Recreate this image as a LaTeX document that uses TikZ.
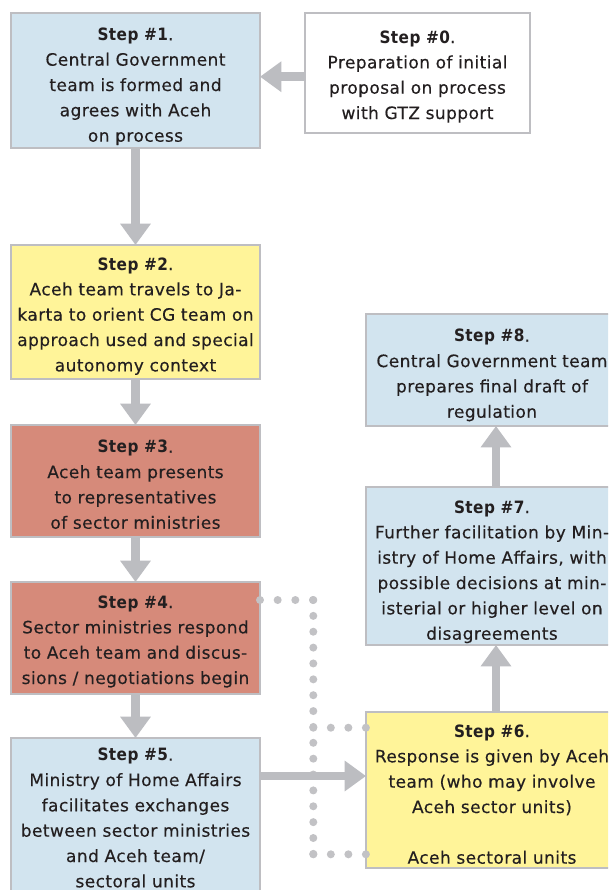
\documentclass[tikz,border=0pt]{standalone}
\usepackage{fontspec}
\setmainfont{DejaVu Sans}[LetterSpace=2.5, FakeBold=0.3, BoldFont={DejaVu Sans Condensed Bold}, BoldFeatures={FakeBold=0}]
\usetikzlibrary{arrows.meta}
\definecolor{boxblue}{HTML}{D2E4EF}
\definecolor{boxyellow}{HTML}{FFF499}
\definecolor{boxsalmon}{HTML}{D68A7A}
\definecolor{bordergray}{HTML}{BEBEC2}
\definecolor{arrowgray}{HTML}{BCBDC1}
\definecolor{dotgray}{HTML}{C2C2C5}
\definecolor{textdark}{HTML}{231F20}
\tikzset{
  stepbox/.style={draw=bordergray, line width=2pt, inner sep=0pt, outer sep=0pt, rectangle},
  steptext/.style={anchor=base, inner sep=0pt, outer sep=0pt, text width=240pt, align=center,
    text=textdark, font=\fontsize{12.75}{19}\selectfont},
  arr/.style={draw=arrowgray, line width=6.5pt, -{Triangle[length=16pt, width=22pt]}},
  dotline/.style={draw=dotgray, line width=6pt, line cap=round}
}
\begin{document}
\begin{tikzpicture}[x=0.75pt,y=-0.75pt]
\useasboundingbox (0,0) rectangle (608,890);
\fill[white] (0,0) rectangle (608,890);
\clip (0,0) rectangle (608,890);

% boxes
\node[stepbox, fill=white, minimum width=168.75pt, minimum height=90pt] (s0) at (417.5,73) {};
\node[stepbox, fill=boxblue, minimum width=186.75pt, minimum height=101.25pt] (s1) at (135.5,80.5) {};
\node[stepbox, fill=boxyellow, minimum width=186.75pt, minimum height=100.5pt] (s2) at (135.5,312) {};
\node[stepbox, fill=boxsalmon, minimum width=186.75pt, minimum height=84pt] (s3) at (135.5,481) {};
\node[stepbox, fill=boxsalmon, minimum width=186.75pt, minimum height=84pt] (s4) at (135.5,638) {};
\node[stepbox, fill=boxblue, minimum width=186.75pt, minimum height=125.25pt] (s5) at (135.5,821.5) {};
\node[stepbox, fill=boxblue, minimum width=189pt, minimum height=84pt] (s8) at (492,370) {};
\node[stepbox, fill=boxblue, minimum width=189pt, minimum height=118.5pt] (s7) at (492,566) {};
\node[stepbox, fill=boxyellow, minimum width=189pt, minimum height=117pt] (s6) at (492,790) {};

% texts
\node[steptext] (t0) at ([yshift=-22.5pt]s0.north) {\textbf{Step \#0}.\\Preparation of initial\\proposal on process\\with GTZ support};
\node[steptext] (t1) at ([yshift=-20.5pt]s1.north) {\textbf{Step \#1}.\\Central Government\\team is formed and\\agrees with Aceh\\on process};
\node[steptext] (t2) at ([yshift=-18.75pt]s2.north) {\textbf{Step \#2}.\\Aceh team travels to Ja-\\karta to orient CG team on\\approach used and special\\autonomy context};
\node[steptext] (t3) at ([yshift=-20.8pt]s3.north) {\textbf{Step \#3}.\\Aceh team presents\\to representatives\\of sector ministries};
\node[steptext] (t4) at ([yshift=-19.5pt]s4.north) {\textbf{Step \#4}.\\Sector ministries respond\\to Aceh team and discus-\\sions / negotiations begin};
\node[steptext] (t5) at ([yshift=-17pt]s5.north) {\textbf{Step \#5}.\\Ministry of Home Affairs\\facilitates exchanges\\between sector ministries\\and Aceh team/\\sectoral units};
\node[steptext] (t8) at ([yshift=-20.8pt]s8.north) {\textbf{Step \#8}.\\Central Government team\\prepares final draft of\\regulation};
\node[steptext] (t7) at ([yshift=-19.5pt]s7.north) {\textbf{Step \#7}.\\Further facilitation by Min-\\istry of Home Affairs, with\\possible decisions at min-\\isterial or higher level on\\disagreements};
\node[steptext] (t6) at ([yshift=-18.75pt]s6.north) {\textbf{Step \#6}.\\Response is given by Aceh\\team (who may involve\\Aceh sector units)\\[19pt]Aceh sectoral units};

% dotted bracket
\coordinate (dx) at (313.3,0);
\coordinate (d1) at (0,600);
\coordinate (d2) at (0,727.7);
\coordinate (d3) at (0,854.3);
\draw[dotline, dash pattern=on 0pt off 13.25pt] (s4.east |- d1) -- (dx |- d1);
\draw[dotline, dash pattern=on 0pt off 11.9pt] (dx |- d1) -- (dx |- d3);
\draw[dotline, dash pattern=on 0pt off 13.15pt] (dx |- d2) -- (s6.west |- d2);
\draw[dotline, dash pattern=on 0pt off 13.15pt] (dx |- d3) -- (s6.west |- d3);

% arrows
\coordinate (ya) at (0,76.7);
\coordinate (yb) at (0,776);
\coordinate (xc) at (496,0);
\draw[arr] (s0.west |- ya) -- (s1.east |- ya);
\draw[arr] (s1.south) -- (s2.north);
\draw[arr] (s2.south) -- (s3.north);
\draw[arr] (s3.south) -- (s4.north);
\draw[arr] (s4.south) -- (s5.north);
\draw[arr] (s5.east |- yb) -- (s6.west |- yb);
\draw[arr] (s6.north -| xc) -- (s7.south -| xc);
\draw[arr] (s7.north -| xc) -- (s8.south -| xc);
\end{tikzpicture}
\end{document}
